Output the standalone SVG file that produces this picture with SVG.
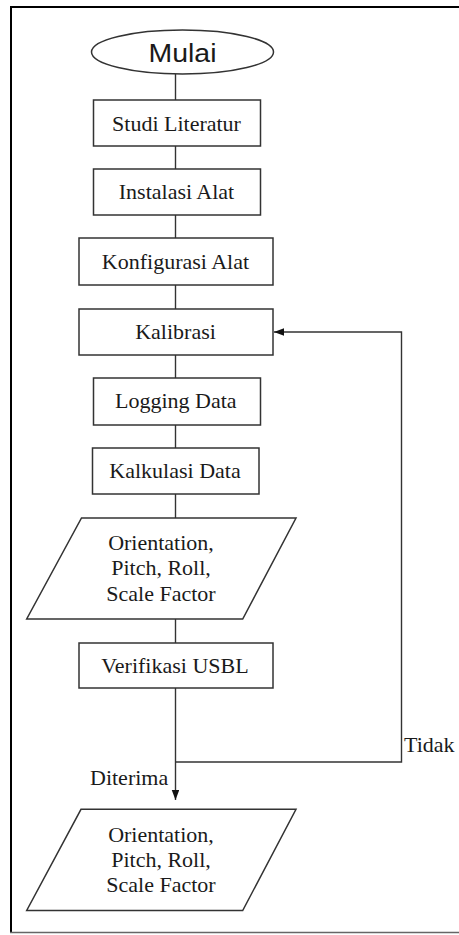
<svg xmlns="http://www.w3.org/2000/svg" width="459" height="935" viewBox="0 0 459 935">
  <style>
    .box { fill: #ffffff; stroke: #333333; stroke-width: 1.5; }
    .t { font-family: "Liberation Serif", "Times New Roman", serif; font-size: 22px; fill: #1a1a1a; text-anchor: middle; }
    .lbl { font-family: "Liberation Serif", "Times New Roman", serif; font-size: 22px; fill: #1a1a1a; }
    .s { font-family: "Liberation Sans", Arial, sans-serif; font-size: 25px; fill: #1a1a1a; text-anchor: middle; }
    .c { fill: none; stroke: #333333; stroke-width: 1.4; }
  </style>
  <defs>
    <marker id="arr" markerUnits="userSpaceOnUse" markerWidth="11" markerHeight="8" refX="10" refY="3.75" orient="auto">
      <path d="M0,0 L10,3.75 L0,7.5 Z" fill="#111111"/>
    </marker>
  </defs>
  <rect width="459" height="935" fill="#ffffff"/>
  <g id="frame">
    <line x1="10" y1="7" x2="459" y2="7" stroke="#000000" stroke-width="2"/>
    <line x1="11" y1="6" x2="11" y2="933" stroke="#000000" stroke-width="2"/>
    <line x1="10" y1="932.5" x2="459" y2="932.5" stroke="#666666" stroke-width="1.5"/>
  </g>
  <g id="connectors">
    <line class="c" x1="175.5" y1="74" x2="175.5" y2="100"/>
    <line class="c" x1="175.5" y1="146" x2="175.5" y2="169"/>
    <line class="c" x1="175.5" y1="215" x2="175.5" y2="238"/>
    <line class="c" x1="175.5" y1="285" x2="175.5" y2="309"/>
    <line class="c" x1="175.5" y1="355" x2="175.5" y2="378"/>
    <line class="c" x1="175.5" y1="425" x2="175.5" y2="448"/>
    <line class="c" x1="175.5" y1="494" x2="175.5" y2="518"/>
    <line class="c" x1="175.5" y1="619" x2="175.5" y2="643"/>
    <line class="c" x1="175.5" y1="688" x2="175.5" y2="800" stroke="#111111" marker-end="url(#arr)"/>
    <polyline class="c" points="175.5,762 401.5,762 401.5,332 274,332" marker-end="url(#arr)"/>
  </g>
  <g id="mulai">
    <ellipse cx="182.5" cy="52" rx="91" ry="22" class="box"/>
    <text class="s" x="182.5" y="61.5" textLength="68" lengthAdjust="spacingAndGlyphs">Mulai</text>
  </g>
  <g id="studi">
    <rect x="93.5" y="100" width="167" height="46" class="box"/>
    <text class="t" x="176.5" y="130.7">Studi Literatur</text>
  </g>
  <g id="instalasi">
    <rect x="93.5" y="169" width="167" height="46" class="box"/>
    <text class="t" x="176.5" y="199.3">Instalasi Alat</text>
  </g>
  <g id="konfigurasi">
    <rect x="79" y="238" width="194" height="47" class="box"/>
    <text class="t" x="175.5" y="269.3">Konfigurasi Alat</text>
  </g>
  <g id="kalibrasi">
    <rect x="79" y="309" width="194" height="46" class="box"/>
    <text class="t" x="175.5" y="338.5">Kalibrasi</text>
  </g>
  <g id="logging">
    <rect x="93.5" y="378" width="167" height="47" class="box"/>
    <text class="t" x="175.8" y="408.3">Logging Data</text>
  </g>
  <g id="kalkulasi">
    <rect x="92.5" y="448" width="166.5" height="46" class="box"/>
    <text class="t" x="175" y="478.3">Kalkulasi Data</text>
  </g>
  <g id="output1">
    <polygon points="81.5,518 296,518 242.7,619 26.7,619" class="box"/>
    <text class="t" x="161" y="549.5">Orientation,</text>
    <text class="t" x="161" y="575">Pitch, Roll,</text>
    <text class="t" x="161" y="600.7">Scale Factor</text>
  </g>
  <g id="verifikasi">
    <rect x="79" y="643" width="194" height="45" class="box"/>
    <text class="t" x="175" y="672.7">Verifikasi USBL</text>
  </g>
  <g id="labels">
    <text class="lbl" x="90" y="785" font-size="21">Diterima</text>
    <text class="lbl" x="404" y="751.7">Tidak</text>
  </g>
  <g id="output2">
    <polygon points="81,809.3 296,809.3 242.7,910.5 26.7,910.5" class="box"/>
    <text class="t" x="161" y="841.7">Orientation,</text>
    <text class="t" x="161" y="866.7">Pitch, Roll,</text>
    <text class="t" x="161" y="891.7">Scale Factor</text>
  </g>
</svg>
